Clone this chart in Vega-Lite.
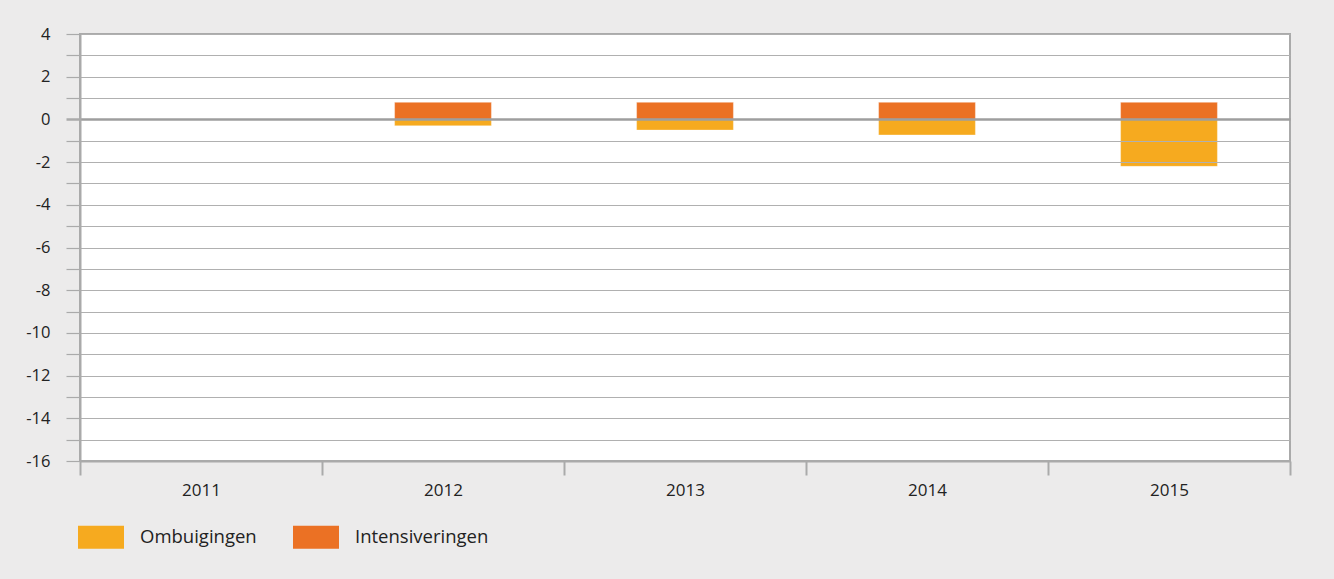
{
  "$schema": "https://vega.github.io/schema/vega-lite/v6.json",
  "autosize": "none",
  "width": 1210,
  "height": 427,
  "padding": {"left": 80, "top": 34, "right": 44, "bottom": 118},
  "background": "#ecebeb",
  "config": {
    "view": {"fill": "white", "stroke": "#aaaaaa", "strokeWidth": 2},
    "font": "Open Sans"
  },
  "data": {
    "values": [
      {"jaar": "2012", "soort": "Intensiveringen", "waarde": 0.8},
      {"jaar": "2012", "soort": "Ombuigingen", "waarde": -0.3},
      {"jaar": "2013", "soort": "Intensiveringen", "waarde": 0.8},
      {"jaar": "2013", "soort": "Ombuigingen", "waarde": -0.5},
      {"jaar": "2014", "soort": "Intensiveringen", "waarde": 0.8},
      {"jaar": "2014", "soort": "Ombuigingen", "waarde": -0.73},
      {"jaar": "2015", "soort": "Intensiveringen", "waarde": 0.8},
      {"jaar": "2015", "soort": "Ombuigingen", "waarde": -2.2}
    ]
  },
  "mark": {"type": "bar", "width": {"band": 0.4}, "stroke": "#ffffff", "strokeOpacity": 0.35, "strokeWidth": 1},
  "encoding": {
    "x": {
      "field": "jaar",
      "type": "nominal",
      "scale": {"domain": ["2011", "2012", "2013", "2014", "2015"], "paddingInner": 0, "paddingOuter": 0},
      "axis": {
        "title": null,
        "labelAngle": 0,
        "tickBand": "extent",
        "tickSize": 14,
        "tickColor": "#aaaaaa",
        "tickWidth": 2,
        "domainColor": "#aaaaaa",
        "domainWidth": 2,
        "labelPadding": 7,
        "labelFontSize": 17,
        "labelColor": "#222222",
        "zindex": 1
      }
    },
    "y": {
      "field": "waarde",
      "type": "quantitative",
      "stack": "zero",
      "scale": {"domain": [-16, 4], "nice": false},
      "axis": {
        "title": null,
        "values": [-16, -15, -14, -13, -12, -11, -10, -9, -8, -7, -6, -5, -4, -3, -2, -1, 0, 1, 2, 3, 4],
        "labelExpr": "datum.value % 2 === 0 ? '' + datum.value : ''",
        "grid": true,
        "gridColor": {"condition": {"test": "datum.value === 0", "value": "#9e9e9e"}, "value": "#b0b0b0"},
        "gridWidth": {"condition": {"test": "datum.value === 0", "value": 2.5}, "value": 1.2},
        "tickSize": 14,
        "tickColor": "#aaaaaa",
        "tickWidth": {"condition": {"test": "datum.value === 0", "value": 2.5}, "value": 1.2},
        "domainColor": "#aaaaaa",
        "domainWidth": 2,
        "labelPadding": 16,
        "labelFontSize": 16.5,
        "labelColor": "#222222",
        "zindex": 1
      }
    },
    "color": {
      "field": "soort",
      "type": "nominal",
      "scale": {"domain": ["Ombuigingen", "Intensiveringen"], "range": ["#f6aa1f", "#eb7124"]},
      "legend": {
        "title": null,
        "orient": "none",
        "direction": "horizontal",
        "legendX": -2,
        "legendY": 480,
        "symbolType": "M-1,-0.5L1,-0.5L1,0.5L-1,0.5Z",
        "symbolSize": 2116,
        "symbolStrokeWidth": 0,
        "symbolOpacity": 1,
        "labelFontSize": 18.5,
        "labelColor": "#222222",
        "labelOffset": 16,
        "columnPadding": 36
      }
    },
    "order": {"field": "soort", "sort": "descending"}
  }
}
